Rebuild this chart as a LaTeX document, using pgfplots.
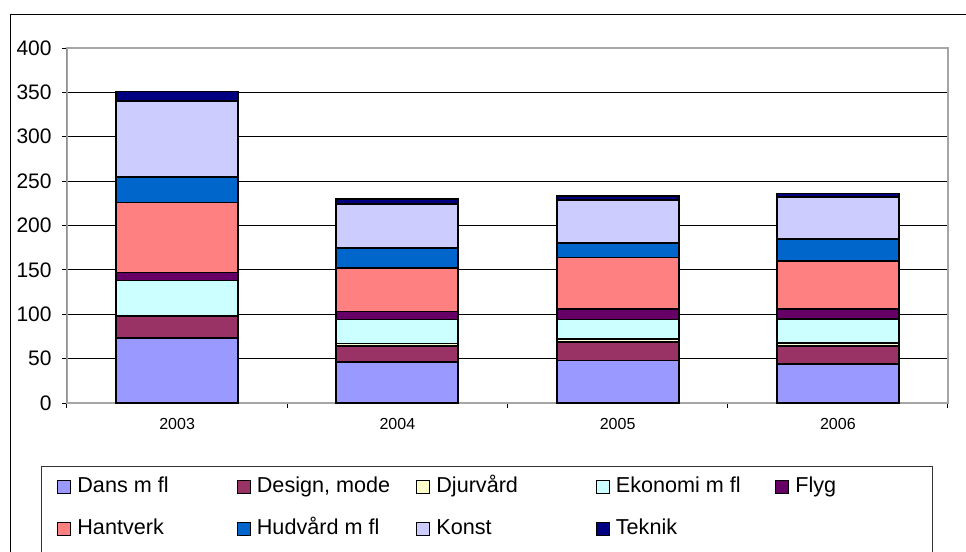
\documentclass[border=0pt]{standalone}
\usepackage{fontspec}
\setmainfont{Liberation Sans}
\usepackage{pgfplots}
\usepackage{pgfplotstable}
\pgfplotsset{compat=1.18}

\definecolor{cDans}{HTML}{9999FF}
\definecolor{cDesign}{HTML}{993366}
\definecolor{cDjur}{HTML}{FFFFCC}
\definecolor{cEkon}{HTML}{CCFFFF}
\definecolor{cFlyg}{HTML}{660066}
\definecolor{cHant}{HTML}{FF8080}
\definecolor{cHud}{HTML}{0066CC}
\definecolor{cKonst}{HTML}{CCCCFF}
\definecolor{cTek}{HTML}{000080}

% categories 0..3 = 2003..2006
\pgfplotstableread{
x Dans Design Djur Ekon Flyg Hant Hud Konst Tek
0 73 25 0 40  9 79 29 85 11
1 46 18 3 27  9 49 23 49  6
2 48 21 3 22 12 58 16 49  4
3 44 20 4 27 11 54 25 47  4
}\data

\newcommand\lb[1]{\makebox[79.75pt][l]{#1}}

\begin{document}
\begin{tikzpicture}
\useasboundingbox (0,0) rectangle (483pt,-276pt);
\clip (0,0) rectangle (483pt,-276pt);
% outer chart frame and legend frame (both run past the cut edge)
\draw[black, line width=0.5pt] (5pt,-7pt) rectangle (495pt,-300pt);
\draw[black!80, line width=0.5pt] (20.8pt,-233pt) rectangle (466pt,-300pt);
\begin{axis}[
  at={(33.5pt,-201.5pt)}, anchor=south west,
  scale only axis, width=440.5pt, height=177.5pt,
  ybar stacked, bar width=61pt,
  xmin=-0.5, xmax=3.5, ymin=0, ymax=400,
  xtick={0,1,2,3}, xticklabels={2003,2004,2005,2006},
  minor xtick={-0.5,0.5,1.5,2.5,3.5},
  ytick={0,50,...,400},
  ymajorgrids, major grid style={black, line width=0.5pt},
  tick pos=left,
  tick align=outside, major tick length=2.5pt, minor tick length=2.5pt,
  every major x tick/.append style={draw=none},
  tick style={black, line width=0.5pt},
  axis line style={gray!70, line width=1pt},
  /pgf/number format/assume math mode=true,
  yticklabel style={font=\fontsize{10.5}{12}\selectfont, inner sep=0pt, anchor=east},
  yticklabel shift=5pt,
  xticklabel style={font=\fontsize{8}{10}\selectfont, inner sep=0pt, anchor=north},
  xticklabel shift=5pt,
  every axis plot post/.append style={
    legend image code/.code={\draw[##1, draw=black, line width=0.5pt] (0pt,-3.25pt) rectangle (6.5pt,3.25pt);}},
  legend columns=5,
  legend cell align=left,
  legend style={draw=none, fill=none, inner sep=0pt,
    at={(axis description cs:-0.01135,-0.2113)}, anchor=north west,
    font=\fontsize{10.8}{12}\selectfont,
    nodes={inner sep=0pt, text height=7pt, text depth=2pt},
    /tikz/every odd column/.append style={column sep=3pt},
    /tikz/row sep=11.85pt},
]
\addplot[fill=cDans, draw=black, line width=0.9pt] table[x=x, y=Dans] {\data};
\addplot[fill=cDesign, draw=black, line width=0.9pt] table[x=x, y=Design] {\data};
\addplot[fill=cDjur, draw=black, line width=0.9pt] table[x=x, y=Djur] {\data};
\addplot[fill=cEkon, draw=black, line width=0.9pt] table[x=x, y=Ekon] {\data};
\addplot[fill=cFlyg, draw=black, line width=0.9pt] table[x=x, y=Flyg] {\data};
\addplot[fill=cHant, draw=black, line width=0.9pt] table[x=x, y=Hant] {\data};
\addplot[fill=cHud, draw=black, line width=0.9pt] table[x=x, y=Hud] {\data};
\addplot[fill=cKonst, draw=black, line width=0.9pt] table[x=x, y=Konst] {\data};
\addplot[fill=cTek, draw=black, line width=0.9pt] table[x=x, y=Tek] {\data};
\legend{\lb{Dans m fl},\lb{Design, mode},\lb{Djurvård},\lb{Ekonomi m fl},\lb{Flyg},
  \lb{Hantverk},\lb{Hudvård m fl},\lb{Konst},\lb{Teknik}}
\draw[black, line width=0.5pt] (axis description cs:0,0) -- (axis description cs:0,1);
\end{axis}
\end{tikzpicture}
\end{document}
